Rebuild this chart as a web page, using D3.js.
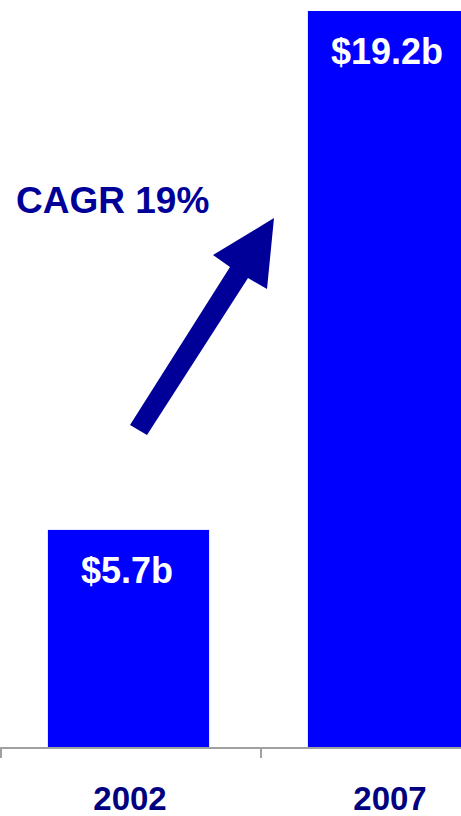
<!DOCTYPE html>
<html>
<head>
<meta charset="utf-8">
<script src="https://cdn.jsdelivr.net/npm/d3@7"></script>
<style>
  html, body { margin: 0; padding: 0; background: #fff; }
  svg { display: block; font-family: "Liberation Sans", Arial, sans-serif; }
</style>
</head>
<body>
<svg id="chart" width="461" height="816"></svg>
<script>
// Market size by year (US$ billions)
const years = ["2002", "2007"];
const values = [5.7, 19.2];
const valueLabels = ["$5.7b", "$19.2b"];
const growthLabel = "CAGR 19%";

const width = 461, height = 816;
const svg = d3.select("#chart");

const x = d3.scaleBand()
  .domain(years)
  .range([0, 520])
  .paddingInner(0.38)
  .paddingOuter(0.19);

const y = d3.scaleLinear()
  .domain([0, 19.2])
  .range([749, 11]);

// bars
svg.append("g")
  .selectAll("rect")
  .data(values)
  .join("rect")
  .attr("x", (d, i) => x(years[i]) - 1.5)
  .attr("y", d => y(d))
  .attr("width", x.bandwidth())
  .attr("height", d => y(0) - y(d))
  .attr("fill", "#0000ff");

// value labels inside the bar tops
svg.append("g")
  .selectAll("text")
  .data(values)
  .join("text")
  .attr("x", (d, i) => x(years[i]) + x.bandwidth() / 2 - 3)
  .attr("y", d => y(d) + 53)
  .attr("text-anchor", "middle")
  .attr("fill", "#ffffff")
  .attr("font-weight", "bold")
  .attr("font-size", 36)
  .text((d, i) => valueLabels[i]);

// baseline axis with ticks at category boundaries
const axis = svg.append("g").attr("stroke", "#a0a0a0").attr("stroke-width", 2);
axis.append("line")
  .attr("x1", 0).attr("x2", width)
  .attr("y1", 748).attr("y2", 748);
[0, x.step()].forEach(t => {
  axis.append("line")
    .attr("x1", t + 1).attr("x2", t + 1)
    .attr("y1", 748).attr("y2", 758);
});

// category labels
svg.append("g")
  .selectAll("text")
  .data(years)
  .join("text")
  .attr("x", d => x(d) + x.bandwidth() / 2)
  .attr("y", 810)
  .attr("text-anchor", "middle")
  .attr("fill", "#000080")
  .attr("font-weight", "bold")
  .attr("font-size", 33)
  .text(d => d);

// growth annotation
svg.append("text")
  .attr("x", 16)
  .attr("y", 213)
  .attr("fill", "#000099")
  .attr("font-weight", "bold")
  .attr("font-size", 37)
  .text(growthLabel);

const arrowPts = [
  [130, 425], [230, 267], [213, 255], [274, 218],
  [267, 289], [248, 278], [147, 435]
];
svg.append("polygon")
  .attr("points", arrowPts.map(p => p.join(",")).join(" "))
  .attr("fill", "#000099");
</script>
</body>
</html>
